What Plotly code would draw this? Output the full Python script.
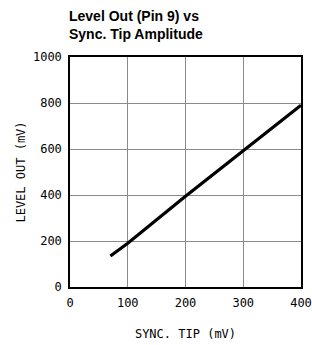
import plotly.graph_objects as go

sync_tip = [70, 100, 200, 300, 400]
level_out = [135, 190, 395, 592, 790]
x_ticks = [0, 100, 200, 300, 400]
y_ticks = [0, 200, 400, 600, 800, 1000]

fig = go.Figure()
fig.add_trace(go.Scatter(x=sync_tip, y=level_out, mode="lines",
                         line=dict(color="black", width=3.2), showlegend=False))

mono = "DejaVu Sans Mono"
tick_font = dict(family=mono, size=12, color="black")
fig.add_annotation(text="<b>Level Out (Pin 9) vs<br>Sync. Tip Amplitude</b>",
                   xref="paper", yref="paper", x=-0.012, y=1.222,
                   xanchor="left", yanchor="top", align="left", showarrow=False,
                   font=dict(family="Liberation Sans", size=14, color="black"))
fig.update_layout(
    width=312, height=345,
    margin=dict(l=70, r=11, t=57, b=58),
    paper_bgcolor="white", plot_bgcolor="white",
    xaxis=dict(range=[0, 400], tickvals=x_ticks, showgrid=True, gridcolor="#8a8a8a",
               gridwidth=1, showline=True, linecolor="black", linewidth=1.5, mirror=True,
               ticks="", tickfont=tick_font, zeroline=False, ticklabelstandoff=4,
               automargin=False,
               title=dict(text="SYNC. TIP (mV)", font=dict(family=mono, size=12, color="black"), standoff=20)),
    yaxis=dict(range=[0, 1000], tickvals=y_ticks, showgrid=True, gridcolor="#8a8a8a",
               gridwidth=1, showline=True, linecolor="black", linewidth=1.5, mirror=True,
               ticks="", tickfont=tick_font, zeroline=False, ticklabelstandoff=4,
               automargin=False,
               title=dict(text="LEVEL OUT (mV)", font=dict(family=mono, size=12, color="black"), standoff=5)),
)
fig.write_html("out.html", config={"displayModeBar": False},
               post_script="document.body.style.margin='0';")
